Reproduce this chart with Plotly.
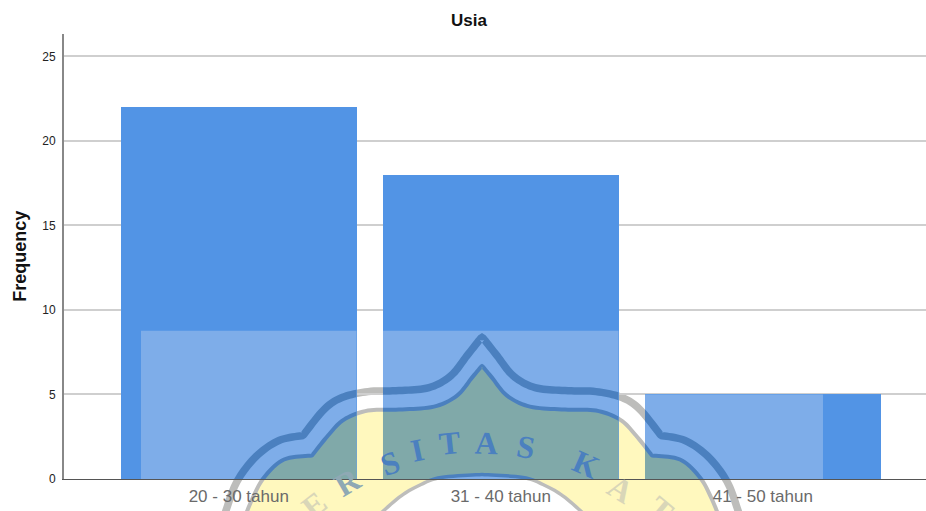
import numpy as np
import plotly.graph_objects as go

categories = ["20 - 30 tahun", "31 - 40 tahun", "41 - 50 tahun"]
frequency = [22, 18, 5]
y_ticks = [0, 5, 10, 15, 20, 25]

W, H = 926, 511
L, R, T, B = 64, 926, 34, 479.5
BAR_W = 0.899
XR = [-0.667, 2.623]
YR = [0, (B - T) / 16.92]
BLUE, LIGHT = "#5294E5", "#7EADE9"
TEAL, YELLOW = "#80A9A9", "#FFF8BE"
BAND_ON_BAR, BAND_GRAY = "#4B80BF", "#BDBDBB"
CX = 482


# ---- helpers for the decorative watermark, in page pixels ----
def px(x, y):
    return (x - L) / (R - L), (B - y) / (B - T)


def path(pts):
    s = []
    for i, (x, y) in enumerate(pts):
        u, v = px(x, y)
        s.append(("M" if i == 0 else "L") + f"{u:.5f},{v:.5f}")
    return " ".join(s) + " Z"


def smooth(pts, n=10):
    p = [pts[0]] + list(pts) + [pts[-1]]
    out = []
    for i in range(1, len(p) - 2):
        a, b, c, d = map(np.array, (p[i - 1], p[i], p[i + 1], p[i + 2]))
        for t in np.linspace(0, 1, n, endpoint=False):
            out.append(0.5 * (2 * b + (c - a) * t + (2 * a - 5 * b + 4 * c - d) * t**2 + (3 * b - a - 3 * c + d) * t**3))
    out.append(np.array(pts[-1], float))
    return [tuple(q) for q in out]


def half(segments):
    out = []
    for s in segments:
        out += smooth(s)
    return out


def mirror(line):
    return [(2 * CX - x, y) for x, y in line]


def full(right):
    return mirror(right)[::-1] + right[1:]


def band(line, w):
    a = np.array(line)
    d = np.gradient(a, axis=0)
    d /= np.maximum(np.linalg.norm(d, axis=1, keepdims=True), 1e-6)
    n = np.stack([-d[:, 1], d[:, 0]], axis=1)
    return [tuple(q) for q in a + n * w / 2] + [tuple(q) for q in (a - n * w / 2)[::-1]]


def clip(poly, x0, x1, y0, y1):
    def cut(ps, inside, inter):
        out = []
        for i, p in enumerate(ps):
            q = ps[i - 1]
            if inside(p):
                if not inside(q):
                    out.append(inter(q, p))
                out.append(p)
            elif inside(q):
                out.append(inter(q, p))
        return out

    def ix(v):
        return lambda a, b: (v, a[1] + (b[1] - a[1]) * (v - a[0]) / (b[0] - a[0]))

    def iy(v):
        return lambda a, b: (a[0] + (b[0] - a[0]) * (v - a[1]) / (b[1] - a[1]), v)

    for ins, it in [(lambda p: p[0] >= x0, ix(x0)), (lambda p: p[0] <= x1, ix(x1)),
                    (lambda p: p[1] >= y0, iy(y0)), (lambda p: p[1] <= y1, iy(y1))]:
        if poly:
            poly = cut(poly, ins, it)
    return poly


outer = half([[(482, 337), (497, 356), (513, 376), (535, 388), (565, 391), (596, 392), (622, 398), (640, 410), (661, 436)],
              [(661, 436), (685, 441), (708, 457), (727, 482), (738, 511), (742, 525)]])
inner = half([[(482, 366), (492, 378), (507, 396), (530, 407), (565, 410), (596, 411), (620, 420), (636, 436), (652, 456)],
              [(652, 456), (680, 460), (700, 478), (712, 500), (722, 525)]])
ring = half([[(482, 475), (523, 478), (545, 486), (565, 498), (590, 520)]])

xpx = lambda v: L + (v - XR[0]) / (XR[1] - XR[0]) * (R - L)
ypx = lambda v: B - v / YR[1] * (B - T)
bars_px = [(xpx(i - BAR_W / 2), xpx(i + BAR_W / 2), ypx(v), B) for i, v in enumerate(frequency)]

yellow_poly = full(inner) + [(CX + 108, 525)] + full(ring)[::-1] + [(CX - 108, 525)]
bands = [(full(outer), 7.5), (full(inner), 4), (full(ring), 3.5)]

shapes = []


def add(poly, color, layer):
    if len(poly) > 2:
        shapes.append(dict(type="path", path=path(poly), xref="paper", yref="paper",
                           fillcolor=color, line=dict(width=0), layer=layer))


# under the bars: what shows on the white page
add(yellow_poly, YELLOW, "below")
for line, w in bands:
    add(band(line, w), BAND_GRAY, "below")

# above the bars: washed rectangle, then the logo, cut to each bar
for x0, x1, y0, y1 in bars_px:
    add([(max(x0, 141), max(y0, 331)), (min(x1, 823), max(y0, 331)), (min(x1, 823), y1), (max(x0, 141), y1)], LIGHT, "above")
    add(clip(yellow_poly, x0, x1, y0, y1), TEAL, "above")
    for line, w in bands:
        add(clip(band(line, w), x0, x1, y0, y1), BAND_ON_BAR, "above")

fig = go.Figure(go.Bar(x=list(range(len(categories))), y=frequency, width=BAR_W,
                       marker=dict(color=BLUE, line=dict(width=0)), hoverinfo="skip"))

annotations = [
    dict(text="<b>Usia</b>", xref="paper", yref="paper", x=(469 - L) / (R - L), y=(B - 20) / (B - T),
         xanchor="center", yanchor="middle",
         showarrow=False, font=dict(size=17, color="#111111", family="Liberation Sans")),
    dict(text="<b>Frequency</b>", xref="paper", yref="paper", x=(20 - L) / (R - L), y=(B - 257) / (B - T),
         xanchor="center", yanchor="middle",
         textangle=-90, showarrow=False, font=dict(size=18, color="#111111", family="Liberation Sans")),
]
letters = [("E", 314, 506, -38, "#D9D6B8"), ("R", 348, 483, -30, "#8FA9B4"), ("S", 390, 463, -20, BAND_ON_BAR),
           ("I", 417, 450, -12, BAND_ON_BAR), ("T", 449, 443, -6, BAND_ON_BAR), ("A", 486, 443, 2, BAND_ON_BAR),
           ("S", 526, 447, 10, BAND_ON_BAR), ("K", 586, 464, 24, BAND_ON_BAR), ("A", 620, 490, 32, "#D9D6B8"),
           ("T", 660, 510, 40, "#D9D6B8")]
for ch, x, y, ang, col in letters:
    u, v = px(x, y)
    annotations.append(dict(text=f"<b>{ch}</b>", xref="paper", yref="paper", x=u, y=v, textangle=ang, showarrow=False,
                            xanchor="center", yanchor="middle",
                            font=dict(size=32, color=col, family="Liberation Serif")))

fig.update_layout(
    width=W, height=H, autosize=False, showlegend=False,
    margin=dict(l=L, r=W - R, t=T, b=H - B, pad=0),
    plot_bgcolor="rgba(0,0,0,0)", paper_bgcolor="white",
    xaxis=dict(range=XR, tickvals=list(range(len(categories))), ticktext=categories, showgrid=False,
               showline=True, linecolor="#555555", linewidth=1, ticks="", zeroline=False, layer="above traces",
               tickfont=dict(size=17, color="#6A6A6A", family="Liberation Sans"), ticklabelstandoff=2),
    yaxis=dict(range=YR, tickvals=y_ticks, showgrid=True, gridcolor="#CFCFCF", gridwidth=2, zeroline=False,
               showline=True, linecolor="#888888", linewidth=2, ticks="", ticklabelstandoff=4,
               tickfont=dict(size=12, color="#222222", family="Liberation Sans")),
    shapes=shapes, annotations=annotations, bargap=0,
)
fig.write_html("out.html", config={"displayModeBar": False, "staticPlot": True},
               post_script="document.body.style.margin='0';document.body.style.overflow='hidden';")
